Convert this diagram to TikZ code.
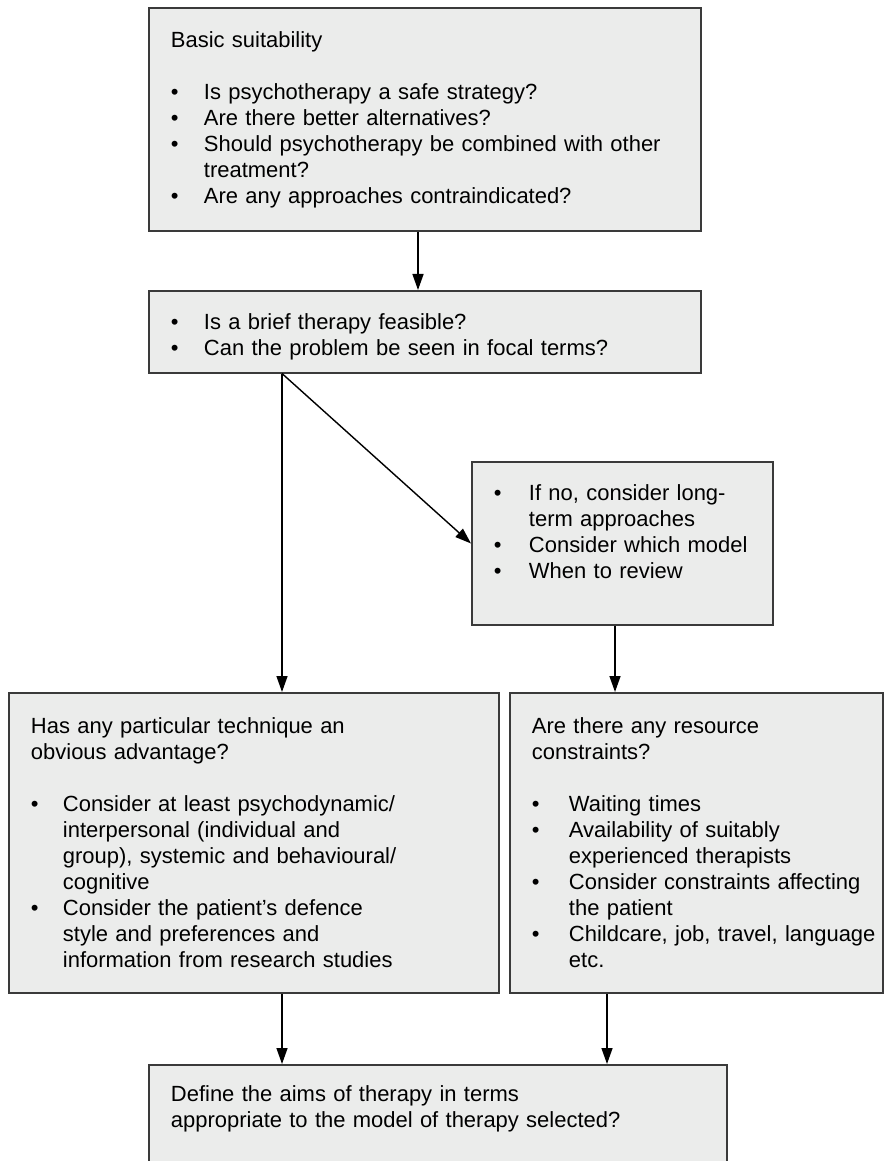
\documentclass[tikz,border=0pt]{standalone}
\usepackage{fontspec}
\setmainfont{Liberation Sans}
\usetikzlibrary{arrows.meta,positioning,calc}
\definecolor{boxfill}{HTML}{EBECEB}
\definecolor{boxline}{HTML}{3A3A3A}
\setlength{\parindent}{0pt}
\hyphenpenalty=10000
% bullet line with hanging indent, and a blank line after a heading
\newlength{\txtx}
\setlength{\txtx}{0.66cm}
\newcommand{\bul}[1]{\par\hangindent=\txtx\hangafter=1\makebox[\txtx][l]{\textbullet}#1\par}
\newcommand{\gap}{\par\vspace{14.8pt}}
\newcommand{\pad}[1]{\par\vspace{#1}\mbox{}}

\begin{document}
\begin{tikzpicture}[font=\fontsize{12.5}{14.8}\selectfont,
 box/.style={draw=boxline,fill=boxfill,line width=1.1pt,align=left,anchor=north west,inner xsep=0.44cm,inner ysep=0.25cm},
 bulletgap/.style={execute at begin node={\setlength{\txtx}{#1}}},
 arr/.style={-{Triangle[length=0.32cm,width=0.22cm]},line width=0.8pt}]
\path[use as bounding box] (0,0) rectangle (17.66,-23.22);
\node[box,text width=10.16cm,minimum height=4.46cm] (basic) at (2.96,-0.14) {Basic suitability\gap
 \bul{Is psychotherapy a safe strategy?}
 \bul{Are there better alternatives?}
 \bul{Should psychotherapy be combined with other\newline treatment?}
 \bul{Are any approaches contraindicated?}};
\node[box,text width=10.16cm,minimum height=1.46cm] (brief) at (2.96,-5.8) {\bul{Is a brief therapy feasible?}
 \bul{Can the problem be seen in focal terms?}};
\node[box,bulletgap=0.7cm,text width=5.14cm] (longterm) at (9.42,-9.22) {\bul{If no, consider long-\newline term approaches}
 \bul{\mbox{Consider which model}}
 \bul{When to review}\pad{0.16cm}};
\node[box,bulletgap=0.64cm,text width=8.92cm,minimum height=6.0cm] (technique) at (0.16,-13.84) {Has any particular technique an\newline obvious advantage?\gap
 \bul{Consider at least psychodynamic/\newline interpersonal (individual and\newline group), systemic and behavioural/\newline cognitive}
 \bul{Consider the patient's defence\newline style and preferences and\newline information from research studies}};
\node[box,bulletgap=0.74cm,text width=6.58cm,minimum height=6.0cm] (resource) at (10.18,-13.84) {Are there any resource\newline constraints?\gap
 \bul{Waiting times}
 \bul{Availability of suitably\newline experienced therapists}
 \bul{\mbox{Consider constraints affecting}\newline the patient}
 \bul{\mbox{Childcare, job, travel, language}\newline etc.}};
\node[box,text width=10.68cm,inner ysep=0.42cm] (aims) at (2.96,-21.28) {Define the aims of therapy in terms\newline appropriate to the model of therapy selected?\pad{0.5cm}};
\coordinate (split) at ([xshift=2.68cm]brief.south west);
\draw[arr] ([xshift=5.4cm]basic.south west) -- ([xshift=5.4cm]brief.north west);
\draw[arr] (split) -- (split |- technique.north);
\draw[arr] (split) -- (longterm.west);
\draw[arr] ([xshift=2.88cm]longterm.south west) -- ([xshift=2.88cm]longterm.south west |- resource.north);
\draw[arr] ([xshift=5.48cm]technique.south west) -- ([xshift=5.48cm]technique.south west |- aims.north);
\draw[arr] ([xshift=1.96cm]resource.south west) -- ([xshift=1.96cm]resource.south west |- aims.north);
\end{tikzpicture}
\end{document}
